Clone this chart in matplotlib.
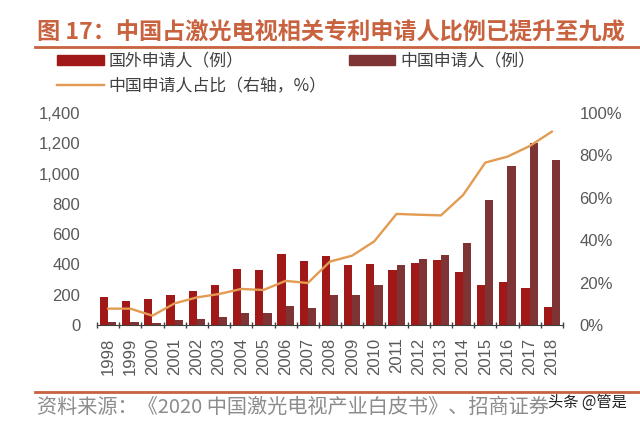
import numpy as np
import matplotlib
matplotlib.use("Agg")
import matplotlib.pyplot as plt
from matplotlib.lines import Line2D
from matplotlib.patches import Patch
from matplotlib.ticker import FuncFormatter, PercentFormatter

# data
years = [str(y) for y in range(1998, 2019)]
foreign = [187, 158, 170, 200, 225, 262, 368, 361, 467, 423, 456,
           398, 400, 363, 410, 431, 352, 266, 284, 242, 119]
china = [20, 18, 11, 31, 42, 53, 81, 77, 125, 110, 195,
         195, 262, 394, 438, 460, 541, 825, 1050, 1200, 1090]
share = [7.7, 7.7, 4.4, 10.2, 13.0, 14.6, 17.0, 16.5, 20.8, 19.8, 29.9,
         32.7, 39.5, 52.4, 52.0, 51.7, 61.3, 76.6, 79.4, 84.4, 91.2]

title = "图 17：中国占激光电视相关专利申请人比例已提升至九成"
source = "资料来源：《2020 中国激光电视产业白皮书》、招商证券"

cjk = ["Noto Sans CJK SC", "DejaVu Sans"]
num = ["Liberation Sans", "DejaVu Sans"]
c_foreign = "#A01818"
c_china = "#7E3434"
c_line = "#E39B52"
c_accent = "#C8623F"
c_text = "#595959"

fig = plt.figure(figsize=(6.4, 4.22), dpi=100)
ax = fig.add_axes([0.1516, 0.2299, 0.728, 0.5024])
ax2 = ax.twinx()

x = np.arange(len(years))
w = 0.37
ax.bar(x - 0.185, foreign, w, color=c_foreign, zorder=2)
ax.bar(x + 0.185, china, w, color=c_china, zorder=2)
ax2.plot(x, share, color=c_line, lw=1.7, zorder=3)

ax.set_xlim(-0.5, len(years) - 0.5)
ax.set_ylim(0, 1400)
ax2.set_ylim(0, 100)
ax.set_yticks(range(0, 1401, 200))
ax2.set_yticks(range(0, 101, 20))
ax.yaxis.set_major_formatter(FuncFormatter(lambda v, p: f"{int(v):,}"))
ax2.yaxis.set_major_formatter(PercentFormatter(decimals=0))

ax.set_xticks(x)
ax.set_xticklabels(years, rotation=90, family=num, fontsize=12, color=c_text)
ax.set_xticks(np.arange(-0.5, len(years)), minor=True)
ax.tick_params(axis="x", which="major", length=0, pad=9)
ax.tick_params(axis="x", which="minor", length=5, direction="inout",
               color="#404040", width=1)
for a in (ax, ax2):
    a.tick_params(axis="y", length=0, labelsize=12, labelcolor=c_text, pad=12)
    for lab in a.get_yticklabels():
        lab.set_family(num)
    for s in ("top", "left", "right"):
        a.spines[s].set_visible(False)
ax.spines["bottom"].set_color("#404040")
ax2.spines["bottom"].set_visible(False)
ax.set_zorder(ax2.get_zorder() - 1)
ax.patch.set_visible(False)
ax2.patch.set_visible(False)

# title and rules
fig.text(0.058, 0.924, title, family=cjk, fontsize=16.7, fontweight="bold",
         color=c_accent, va="center", ha="left")
fig.add_artist(Line2D([0.055, 1.0], [0.888, 0.888], transform=fig.transFigure,
                      color=c_accent, lw=2))
fig.add_artist(Line2D([0.055, 1.0], [0.0718, 0.0718], transform=fig.transFigure,
                      color=c_accent, lw=2))
fig.text(0.058, 0.034, source, family=cjk, fontsize=14.5, color="#8C8C8C",
         va="center", ha="left")
fig.text(0.98, 0.047, "头条 @管是", family=cjk, fontsize=11, color="#222222",
         va="center", ha="right")

handles = [Patch(color=c_foreign), Line2D([], [], color=c_line, lw=1.7),
           Patch(color=c_china)]
labels = ["国外申请人（例）", "中国申请人占比（右轴，%）", "中国申请人（例）"]
leg = fig.legend(handles, labels, loc="upper left", bbox_to_anchor=(0.084, 0.885),
                 ncol=2, frameon=False, prop={"family": cjk, "size": 12.2},
                 handlelength=2.75, handleheight=0.6, handletextpad=0.3,
                 columnspacing=1.3, labelspacing=0.42, borderpad=0.2,
                 borderaxespad=0)
for t in leg.get_texts():
    t.set_color("#404040")

fig.savefig("out.png", dpi=100)
